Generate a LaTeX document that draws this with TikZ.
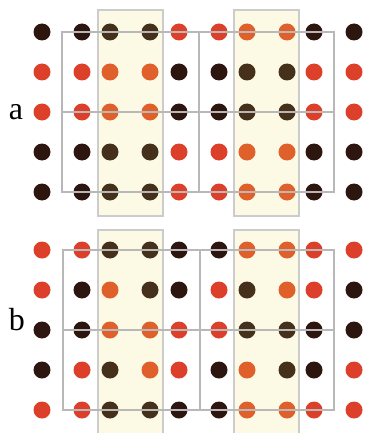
\documentclass[tikz,border=0pt]{standalone}
\usepackage{fontspec}
\setmainfont{Liberation Serif}
\definecolor{colD}{HTML}{2E1610}
\definecolor{colR}{HTML}{DC402A}
\definecolor{colO}{HTML}{E0602C}
\definecolor{colB}{HTML}{45301C}
\definecolor{boxfill}{HTML}{FCFAE4}
\definecolor{boxline}{HTML}{CCCCCC}
\definecolor{linkline}{HTML}{B8B8B8}
\tikzset{
  hbox/.style={fill=boxfill, draw=boxline, line width=1.3pt},
  link/.style={draw=linkline, line width=1.2pt},
  lab/.style={anchor=base, font=\fontsize{32}{32}\selectfont, inner sep=0pt}
}
\begin{document}
\begin{tikzpicture}[x=1pt,y=-1pt]
\useasboundingbox (0,0) rectangle (367,433);
% highlight boxes
\path[hbox] (98,10) rectangle (163,216);
\path[hbox] (234,10) rectangle (299,216);
\path[hbox] (98,230) rectangle (163,440);
\path[hbox] (234,230) rectangle (299,440);
% dots
\foreach \y/\codes in {
  32/{D,D,B,B,R,R,O,O,D,D},
  72/{R,R,O,O,D,D,B,B,R,R},
  112/{R,R,O,O,D,D,B,B,R,R},
  152/{D,D,B,B,R,R,O,O,D,D},
  192/{D,D,B,B,R,R,O,O,D,D},
  250/{R,R,B,B,D,D,O,O,R,R},
  290/{R,D,O,B,D,R,B,O,R,D},
  330/{D,D,O,O,R,R,B,B,D,D},
  370/{D,R,B,O,R,D,O,B,D,R},
  410/{R,R,B,B,D,D,O,O,R,R}}{
  \foreach \c [count=\i] in \codes {
    \pgfmathsetmacro\xx{{42,82,110,150,179,219,247,287,314,354}[\i-1]}
    \fill[col\c] (\xx,\y) circle (8.5);
  }
}
% link lines panel a
\draw[link] (62,32) -- (334,32) -- (334,192) -- (62,192) -- cycle;
\draw[link] (62,112) -- (334,112);
\draw[link] (199,32) -- (199,192);
% link lines panel b
\draw[link] (63,250) -- (334,250) -- (334,410) -- (63,410) -- cycle;
\draw[link] (63,330) -- (334,330);
\draw[link] (200,250) -- (200,410);
% labels
\node[lab] (la) at (16,120) {a};
\node[lab] (lb) at (17,330) {b};
\end{tikzpicture}
\end{document}
